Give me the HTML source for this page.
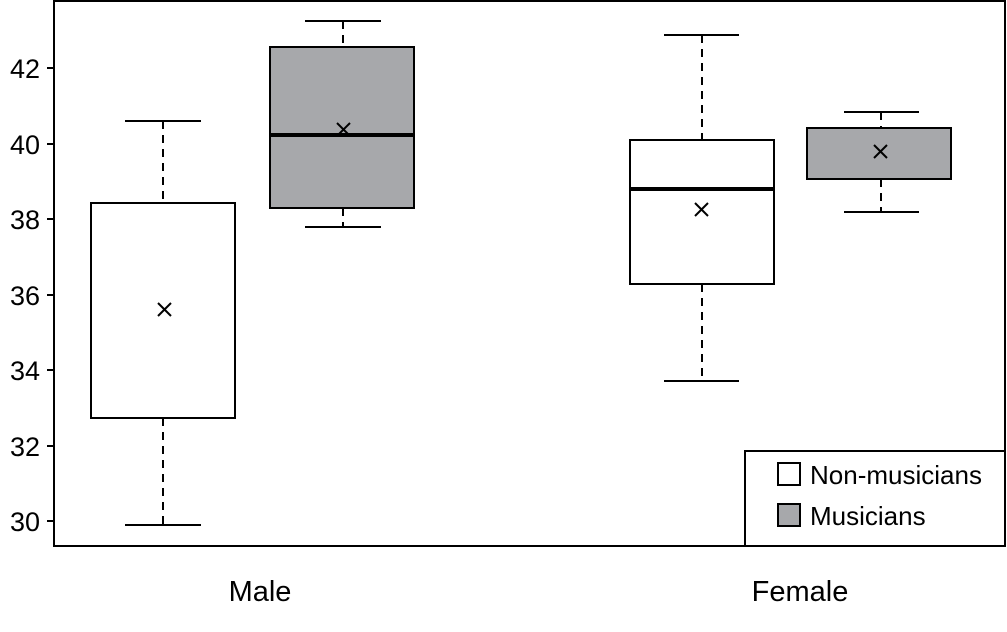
<!DOCTYPE html>
<html><head><style>body{margin:0;background:#fff}svg{display:block}</style></head><body>
<svg width="1007" height="632" viewBox="0 0 1007 632" xmlns="http://www.w3.org/2000/svg" font-family="Liberation Sans, sans-serif">
<rect x="54" y="1" width="951" height="545" fill="none" stroke="#000" stroke-width="2"/>
<g stroke="#000" stroke-width="2">
<line x1="47" y1="68" x2="54" y2="68"/><line x1="47" y1="144" x2="54" y2="144"/><line x1="47" y1="219" x2="54" y2="219"/><line x1="47" y1="295" x2="54" y2="295"/><line x1="47" y1="370" x2="54" y2="370"/><line x1="47" y1="446" x2="54" y2="446"/><line x1="47" y1="521" x2="54" y2="521"/>
</g>
<g font-size="27" text-anchor="end" fill="#000">
<text x="40" y="78">42</text><text x="40" y="154">40</text><text x="40" y="229">38</text><text x="40" y="305">36</text><text x="40" y="380">34</text><text x="40" y="456">32</text><text x="40" y="531">30</text>
</g>
<g stroke="#000" stroke-width="2" fill="none">
<line x1="163" y1="121" x2="163" y2="203" stroke-dasharray="8,6"/><line x1="163" y1="418" x2="163" y2="525" stroke-dasharray="8,6"/>
<line x1="125" y1="121" x2="201" y2="121"/><line x1="125" y1="525" x2="201" y2="525"/>
<rect x="91" y="203" width="144" height="215" fill="#fff"/>
<path d="M158 303 l13 13 M171 303 l-13 13"/>
<line x1="343" y1="21" x2="343" y2="47" stroke-dasharray="8,6"/><line x1="343" y1="208" x2="343" y2="227" stroke-dasharray="8,6"/>
<line x1="305" y1="21" x2="381" y2="21"/><line x1="305" y1="227" x2="381" y2="227"/>
<rect x="270" y="47" width="144" height="161" fill="#a7a8ab"/>
<line x1="270" y1="135" x2="414" y2="135" stroke-width="4"/>
<path d="M337 123 l13 13 M350 123 l-13 13"/>
<line x1="702" y1="35" x2="702" y2="140" stroke-dasharray="8,6"/><line x1="702" y1="284" x2="702" y2="381" stroke-dasharray="8,6"/>
<line x1="664" y1="35" x2="739" y2="35"/><line x1="664" y1="381" x2="739" y2="381"/>
<rect x="630" y="140" width="144" height="144" fill="#fff"/>
<line x1="630" y1="189" x2="774" y2="189" stroke-width="4"/>
<path d="M695 203 l13 13 M708 203 l-13 13"/>
<line x1="881" y1="112" x2="881" y2="128" stroke-dasharray="8,6"/><line x1="881" y1="179" x2="881" y2="212" stroke-dasharray="8,6"/>
<line x1="844" y1="112" x2="919" y2="112"/><line x1="844" y1="212" x2="919" y2="212"/>
<rect x="807" y="128" width="144" height="51" fill="#a7a8ab"/>
<path d="M874 145 l13 13 M887 145 l-13 13"/>
<rect x="745" y="451" width="260" height="95" fill="#fff"/>
<rect x="778" y="463" width="22" height="22" fill="#fff"/>
<rect x="778" y="504" width="22" height="22" fill="#a7a8ab"/>
</g>
<g font-size="26" fill="#000">
<text x="810" y="484">Non-musicians</text>
<text x="810" y="525">Musicians</text>
<text x="260" y="601" text-anchor="middle" font-size="29">Male</text>
<text x="800" y="601" text-anchor="middle" font-size="29">Female</text>
</g>
</svg>
</body></html>
